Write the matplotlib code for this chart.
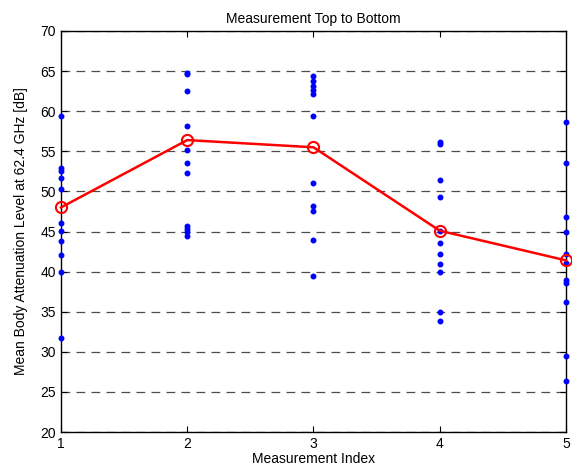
import matplotlib
matplotlib.use("Agg")
from matplotlib import pyplot as plt

plt.rcParams['font.family'] = ['Liberation Sans', 'DejaVu Sans']

index = [1, 2, 3, 4, 5]

m1 = [59.4, 52.9, 52.6, 51.7, 50.3, 46.1, 45.1, 43.8, 42.1, 39.9, 31.7]
m2 = [64.8, 64.6, 62.5, 58.1, 55.2, 53.6, 52.3, 45.7, 45.3, 44.9, 44.5]
m3 = [64.4, 63.8, 63.1, 62.6, 62.2, 59.4, 51.1, 48.2, 47.6, 43.9, 39.4]
m4 = [56.2, 55.9, 51.4, 49.3, 45.1, 43.6, 42.2, 41.0, 40.0, 35.0, 33.8]
m5 = [58.7, 53.6, 46.8, 45.0, 42.2, 41.1, 39.0, 38.6, 36.2, 29.5, 26.4]

means = [48.0, 56.4, 55.5, 45.1, 41.4]

yticks = [20, 25, 30, 35, 40, 45, 50, 55, 60, 65, 70]

fig = plt.figure(figsize=(5.72, 4.74), dpi=100)
ax = fig.add_axes([0.1066, 0.0886, 0.8829, 0.846])

k = 0
for vals in [m1, m2, m3, m4, m5]:
    ax.plot([index[k]] * len(vals), vals, '.', color='blue', markersize=6.5, clip_on=False, zorder=3)
    k += 1

ax.plot(index, means, '-o', color='red', linewidth=1.8, markersize=8,
        markerfacecolor='none', markeredgewidth=1.5, clip_on=False, zorder=4)

ax.set_xlim(1, 5)
ax.set_ylim(20, 70)
ax.set_xticks(index)
ax.set_yticks(yticks)
ax.yaxis.grid(True, linestyle=(0, (7, 5)), color='0.3', linewidth=0.9)
ax.set_axisbelow(True)
ax.tick_params(direction='in', top=True, right=True, labelsize=10, length=4)
for s in ax.spines.values():
    s.set_linewidth(1.0)

ax.set_title("Measurement Top to Bottom", fontsize=10)
ax.set_xlabel("Measurement Index", fontsize=10, labelpad=1)
ax.set_ylabel("Mean Body Attenuation Level at 62.4 GHz [dB]", fontsize=10, labelpad=9)

fig.savefig("out.png", dpi=100)
